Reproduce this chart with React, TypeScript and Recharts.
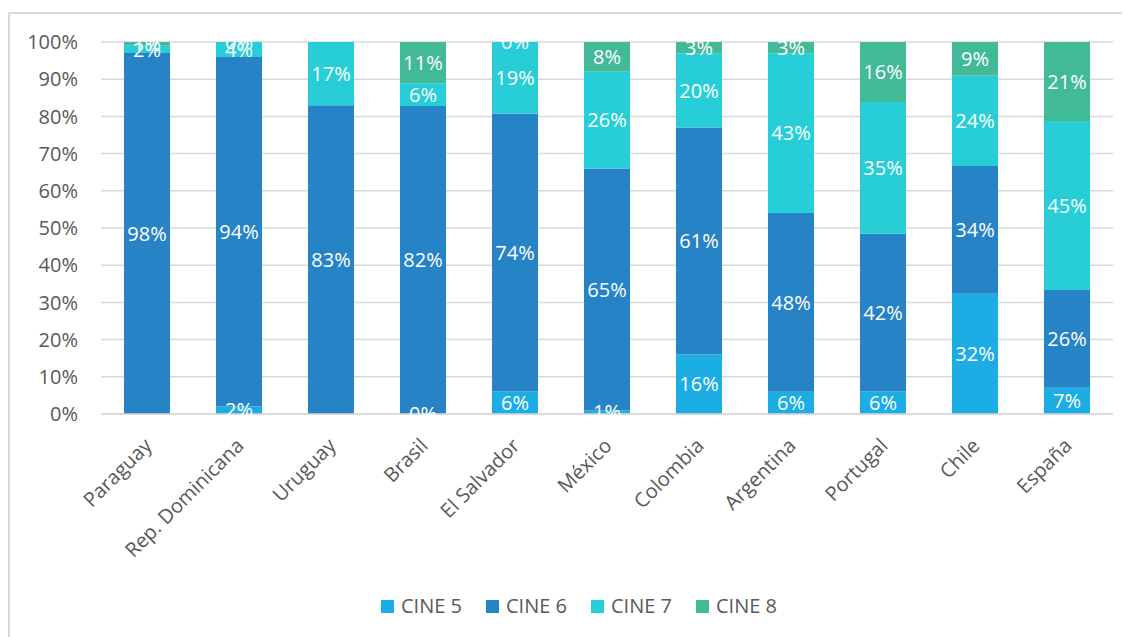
import { BarChart, Bar, XAxis, YAxis, CartesianGrid, Legend, LabelList } from 'recharts';

const countries = ['Paraguay', 'Rep. Dominicana', 'Uruguay', 'Brasil', 'El Salvador', 'México', 'Colombia', 'Argentina', 'Portugal', 'Chile', 'España'];

// porcentajes por nivel CINE (null = sin dato)
const cine5 = [null, 2, null, 0, 6, 1, 16, 6, 6, 32, 7];
const cine6 = [98, 94, 83, 82, 74, 65, 61, 48, 42, 34, 26];
const cine7 = [2, 4, 17, 6, 19, 26, 20, 43, 35, 24, 45];
const cine8 = [1, 0, null, 11, 0, 8, 3, 3, 16, 9, 21];

const yTicks = [0, 0.1, 0.2, 0.3, 0.4, 0.5, 0.6, 0.7, 0.8, 0.9, 1];

const series = [
  { key: 'CINE 5', values: cine5, color: '#1CADE4' },
  { key: 'CINE 6', values: cine6, color: '#2683C6' },
  { key: 'CINE 7', values: cine7, color: '#27CED7' },
  { key: 'CINE 8', values: cine8, color: '#42BA97' },
];

// recharts drops zero-height segments (and their labels), so a 0 gets a hair of height
const data = countries.map((pais, i) => {
  const row: Record<string, any> = { pais };
  series.forEach(s => {
    const v = s.values[i];
    row[s.key] = v === 0 ? 1e-4 : v;
  });
  return row;
});

const FONT = '"Open Sans", sans-serif';
const GREY = '#595959';

function CountryTick({ x, y, payload }: any) {
  const ax = x + 6;
  const ay = y + 33;
  return (
    <text x={ax} y={ay} transform={`rotate(-45 ${ax} ${ay})`} textAnchor="end" fill={GREY} fontSize={20} fontFamily={FONT}>
      {payload.value}
    </text>
  );
}

function SegLabel(props: any) {
  const { x, y, width, height, value } = props;
  if (value === null || value === undefined) return null;
  return (
    <text x={x + width / 2} y={y + height / 2} dy="0.36em" textAnchor="middle" fill="#fff" fontSize={20} fontFamily={FONT}>
      {`${Math.round(value)}%`}
    </text>
  );
}

function LegendBox() {
  return (
    <div style={{ display: 'flex', fontFamily: FONT, fontSize: 20, color: GREY, lineHeight: '24px' }}>
      {series.map(s => (
        <div key={s.key} style={{ display: 'flex', alignItems: 'center', width: 105 }}>
          <span style={{ display: 'inline-block', width: 13, height: 13, background: s.color, marginRight: 7 }} />
          {s.key}
        </div>
      ))}
    </div>
  );
}

export default function App() {
  return (
    <div style={{ paddingTop: 4 }}>
      <div style={{ borderTop: '2px solid #D9D9D9', borderLeft: '2px solid #D9D9D9', width: 1120, height: 623 }}>
        <BarChart width={1120} height={623} data={data} stackOffset="expand" barSize={46}
          margin={{ top: 28, right: 17, left: 0, bottom: 19 }}>
          <CartesianGrid vertical={false} stroke="#D9D9D9" strokeWidth={1.5} />
          <XAxis dataKey="pais" interval={0} height={180} tickLine={false} axisLine={{ stroke: '#D9D9D9', strokeWidth: 1.5 }}
            tick={<CountryTick />} tickSize={0} tickMargin={0} />
          <YAxis width={91} ticks={yTicks} domain={[0, 1]} tickFormatter={(v: number) => `${Math.round(v * 100)}%`}
            axisLine={false} tickLine={false} tickSize={0} tickMargin={23} interval={0}
            tick={{ fill: GREY, fontSize: 20, fontFamily: FONT }} />
          <Legend verticalAlign="bottom" height={24} content={<LegendBox />} wrapperStyle={{ left: 371, width: 430 }} />
          {series.map(s => (
            <Bar key={s.key} dataKey={s.key} stackId="a" fill={s.color} isAnimationActive={false}>
              <LabelList dataKey={s.key} content={<SegLabel />} />
            </Bar>
          ))}
        </BarChart>
      </div>
    </div>
  );
}
